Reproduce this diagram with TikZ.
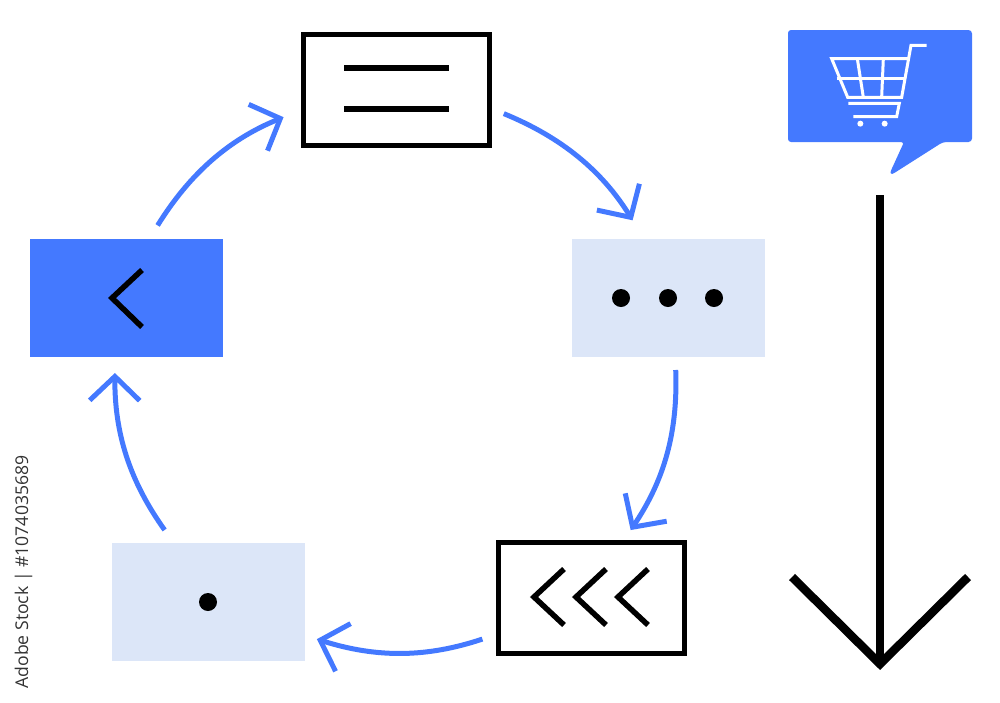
\documentclass[tikz,border=0pt]{standalone}
\usepackage{fontspec}
\setmainfont{Open Sans}
\usetikzlibrary{arrows.meta}
\definecolor{flowblue}{HTML}{4479FF}
\definecolor{paleblue}{HTML}{DCE6F8}
\tikzset{
  panel/.style = {rectangle, inner sep=0pt, outer sep=0pt, minimum width=193pt, minimum height=118pt},
  linepanel/.style = {panel, draw=black, line width=5pt, minimum width=186pt, minimum height=111pt},
  palepanel/.style = {panel, fill=paleblue},
  bluepanel/.style = {panel, fill=flowblue},
  flow/.style = {draw=flowblue, line width=5pt, -{Straight Barb[length=24pt,width=50pt,line width=5pt]}},
  mark line/.style = {draw=black, line width=5.5pt},
  bigarrow/.style = {draw=black, line width=8.5pt},
  carticon/.style = {draw=white, line width=3pt},
  blackdot/.style = {circle, fill=black, inner sep=0pt, outer sep=0pt, minimum size=18pt},
}
\begin{document}
\begin{tikzpicture}[x=1pt,y=-1pt]
\useasboundingbox (0,0) rectangle (1000,702);
% boxes of the cycle
\node [linepanel] (menu) at (396,89.5) {};
\node [palepanel] (dots) at (668,298) {};
\node [linepanel] (rewind) at (591.5,598) {};
\node [palepanel] (single) at (208,602) {};
\node [bluepanel] (back) at (126.5,298) {};
% marks inside the boxes
\draw [mark line] (344,68) -- (449,68);
\draw [mark line] (344,109) -- (449,109);
\foreach \x in {621,668,714} {
  \node [blackdot] (dot\x) at (\x,298) {};
}
\node [blackdot] (onedot) at (208,602) {};
\draw [mark line] (142,270) -- (112,298) -- (142,327);
\foreach \x in {534,576,618} {
  \draw [mark line] (\x+30,569) -- (\x,597) -- (\x+30,625);
}
% arrows round the cycle
\draw [flow, shorten <=16pt, shorten >=21pt] (back.69) to[bend left=18] (menu.192);
\draw [flow, shorten <=16pt, shorten >=22pt] (menu.349) to[bend left=18] (dots.112);
\draw [flow, shorten <=13pt, shorten >=15pt] (dots.277) to[bend left=18] (rewind.61);
\draw [flow, shorten <=17pt, shorten >=13pt] (rewind.201) to[bend left=18] (single.341);
\draw [flow, shorten <=16pt, shorten >=16pt] (single.120) to[bend left=18] (back.259);
% cart bubble
\fill [flowblue, rounded corners=3.5pt] (788,30) -- (972,30) -- (972,142) -- (943,142)
  [rounded corners=8pt] -- (888,177) [rounded corners=3pt] -- (904,142) -- (788,142) -- cycle;
\begin{scope}[shift={(780,20)},x=0.3333pt,y=-0.3333pt]
\draw [carticon] (440,76) -- (393,76) -- (365,232) -- (203,232) -- (155,116) -- (381,116);
\draw [carticon] (170,175) -- (372,175);
\draw [carticon] (232,116) -- (250,232);
\draw [carticon] (310,116) -- (305,232);
\draw [carticon] (205,250) -- (358,250) -- (350,290) -- (220,290);
\fill [white] (241,311) circle (9);
\fill [white] (314,311) circle (9);
\end{scope}
% long arrow
\coordinate (longtop) at (880,195);
\coordinate (longtip) at (880,664);
\coordinate (longleft) at (792,577);
\coordinate (longright) at (968,577);
\draw [bigarrow] (longtop) -- (longtip);
\draw [bigarrow] (longleft) -- (longtip) -- (longright);
% side text
\node [rotate=90, text=black!80, font=\fontsize{17.6}{19}\selectfont, inner sep=0pt] (stock) at (23.5,572) {Adobe Stock | \#1074035689};
\end{tikzpicture}
\end{document}
